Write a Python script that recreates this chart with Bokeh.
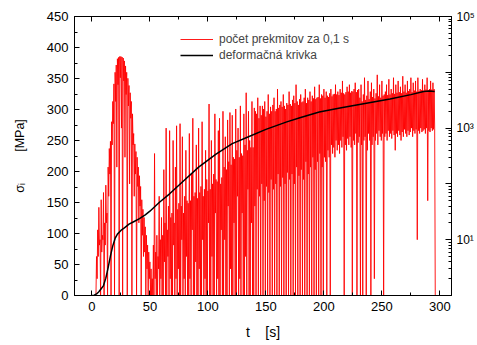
from bokeh.plotting import figure
from bokeh.models import (Range1d, LogScale, LogAxis, LinearAxis, FixedTicker,
                          Legend, LegendItem, CustomJSTickFormatter, ColumnDataSource)
from bokeh.embed import file_html
from bokeh.resources import INLINE

# ---- data ----
# deformation curve (left axis, MPa)
t_def = [0, 2, 4, 6, 8, 10, 12, 14, 16, 18, 20, 22, 25, 28, 32, 36, 41, 46, 50,
         58, 67, 78, 92, 107, 121, 135, 150, 168, 180, 196, 215, 233, 257, 275,
         286, 291, 295.5]
s_def = [0, 0.6, 2.5, 6, 11, 16, 28, 45, 64, 80, 92, 99, 105, 109, 115, 119, 124,
         130, 136, 150, 164, 183, 207, 228, 245, 256, 268, 280, 287, 296, 303,
         309, 317, 324, 329, 330, 329]

# oscillation counts per 0.1 s (right log axis)
# upper readings at whole seconds t = 3..296
t_cnt = list(range(3, 297))
cnt = [
    # t 3-52
    1, 5, 15, 38, 10, 52, 12, 70, 20, 95,
    30, 200, 430, 580, 1300, 3000, 6200, 10000, 13500, 17500,
    18500, 19200, 19200, 18800, 18000, 16000, 13000, 10000, 7800, 5800,
    4300, 3000, 1800, 800, 520, 380, 300, 200, 140, 90,
    52, 35, 25, 17, 12, 8, 6, 4, 3, 2,
    # t 53-140
    8, 350, 6, 12, 5, 60, 10, 25, 12, 180,
    20, 1000, 15, 40, 900, 25, 30, 600, 20, 200,
    1100, 35, 45, 1200, 40, 700, 30, 60, 400, 50,
    45, 800, 50, 150, 1500, 60, 70, 500, 55, 1000,
    70, 90, 1300, 60, 80, 400, 120, 75, 2700, 80,
    600, 100, 150, 1800, 120, 110, 900, 1500, 100, 130,
    2000, 200, 700, 180, 1400, 250, 1900, 220, 1700, 300,
    280, 2200, 400, 1000, 300, 2500, 350, 320, 1800, 500,
    4300, 400, 2000, 600, 450, 3000, 450, 2300,
    # t 141-230
    2000, 1800, 3500, 1500, 2500, 1700, 2500, 2200, 3000, 1600,
    2000, 4000, 1800, 2400, 2000, 2600, 3500, 2000, 2200, 5000,
    2300, 2600, 3000, 2400, 4000, 2500, 2200, 2800, 2600, 4500,
    2700, 2500, 3200, 3800, 2800, 6000, 3000, 2600, 3300, 4000,
    2900, 3000, 3500, 5000, 2800, 3500, 3200, 4500, 3000, 3800,
    3400, 5500, 3300, 3500, 3600, 6000, 3400, 4000, 3800, 5000,
    3500, 4500, 3800, 3600, 4200, 5000, 3700, 4000, 4100, 6000,
    4000, 4500, 3900, 5000, 4300, 7000, 4200, 4000, 4400, 5500,
    4500, 6000, 4300, 4600, 4500, 5000, 6500, 4400, 4800, 5000,
    # t 231-296
    3500, 6000, 3000, 4000, 8000, 3200, 3800, 7000, 3300, 4500,
    6500, 3600, 5000, 3400, 4200, 9000, 3700, 6000, 3500, 7000,
    3800, 4000, 4500, 6000, 3900, 7500, 4000, 5000, 4200, 8000,
    4100, 6000, 4300, 7000, 4400, 5500, 4200, 8500, 4500, 6000,
    4300, 7000, 4600, 5000, 8000, 4400, 6500, 4700, 7000, 4500,
    8000, 4600, 5000, 4800, 7500, 4700, 6000, 4900, 8000, 4800,
    5000, 7000, 4900, 6500, 5000, 1,
]
# lower readings at half seconds t = 3.5..295.5
t_half = [t + 0.5 for t in range(3, 296)]
cnt_half = [
    # t 3.5-52.5
    1, 2, 5, 8, 1, 6, 10, 1, 8, 20,
    1, 60, 150, 1, 500, 1200, 1, 3000, 200, 6000,
    1, 8000, 1000, 1, 7000, 300, 4000, 1, 2500, 100,
    1500, 1, 500, 60, 150, 1, 90, 20, 40, 1,
    12, 5, 6, 1, 3, 1, 2, 1, 1, 1,
    # t 53.5-140.5
    1, 2, 1, 1, 3, 1, 2, 1, 1, 4,
    1, 1, 5, 1, 2, 1, 1, 8, 1, 2,
    1, 3, 1, 1, 10, 1, 2, 1, 5, 1,
    1, 2, 1, 15, 1, 1, 4, 1, 1, 3,
    1, 1, 10, 1, 2, 1, 1, 20, 1, 1,
    5, 1, 1, 30, 1, 2, 1, 1, 15, 1,
    1, 10, 1, 1, 40, 1, 3, 1, 1, 20,
    1, 1, 60, 1, 2, 1, 30, 1, 1, 5,
    1, 80, 1, 1, 20, 1, 1, 40,
    # t 141.5-230.5
    1, 80, 1, 60, 1, 100, 1, 50, 1, 90,
    1, 70, 1, 120, 1, 80, 1, 100, 1, 150,
    1, 90, 1, 130, 1, 100, 1, 160, 1, 120,
    1, 150, 1, 100, 1, 200, 1, 140, 1, 180,
    1, 120, 1, 250, 1, 150, 1, 200, 1, 300,
    1, 180, 1, 250, 1, 350, 1, 200, 1, 300,
    250, 1, 400, 300, 1, 500, 350, 450, 300, 600,
    400, 500, 350, 600, 450, 700, 1, 500, 400, 650,
    500, 700, 450, 1, 600, 500, 800, 1, 550, 700,
    # t 231.5-295.5
    1, 500, 1, 600, 700, 1, 400, 800, 600, 1,
    500, 700, 2, 600, 800, 500, 900, 700, 600, 800,
    1, 700, 800, 600, 900, 700, 800, 650, 900, 750,
    400, 800, 700, 900, 750, 600, 850, 700, 950, 800,
    700, 900, 750, 850, 1000, 700, 900, 800, 950, 10,
    900, 800, 1000, 850, 900, 950, 800, 1000, 50, 900,
    850, 1000, 900, 950, 1000,
]

x_ticks = [0, 50, 100, 150, 200, 250, 300]
x_minor = [25, 75, 125, 175, 225, 275]
y_ticks = [0, 50, 100, 150, 200, 250, 300, 350, 400, 450]
y_minor = [25, 75, 125, 175, 225, 275, 325, 375, 425]
log_ticks = [1, 10, 100, 1000, 10000, 100000]
log_minor = [2, 3, 4, 5, 6, 7, 8, 9, 20, 30, 40, 50, 60, 70, 80, 90,
             200, 300, 400, 500, 600, 700, 800, 900,
             2000, 3000, 4000, 5000, 6000, 7000, 8000, 9000,
             20000, 30000, 40000, 50000, 60000, 70000, 80000, 90000]
log_labels = {1: "", 10: "10\u00b9", 100: "", 1000: "10\u00b3", 10000: "", 100000: "10\u2075"}

# merge whole- and half-second readings into one time-ordered series
t_all, c_all = [], []
for i in range(len(t_cnt)):
    t_all.append(t_cnt[i]); c_all.append(cnt[i])
    if i < len(t_half):
        t_all.append(t_half[i]); c_all.append(cnt_half[i])
src_cnt = ColumnDataSource(dict(t=t_all, c=c_all))

FONT = "Liberation Sans"

p = figure(width=477, height=345, output_backend="svg", toolbar_location=None,
           x_range=Range1d(-15, 310), y_range=Range1d(0, 450),
           min_border_left=74, min_border_right=22, min_border_top=16,
           min_border_bottom=50, x_axis_location=None, y_axis_location=None)
p.extra_y_ranges = {"cnt": Range1d(1, 100000)}
p.extra_y_scales = {"cnt": LogScale()}
p.xgrid.visible = False
p.ygrid.visible = False
p.outline_line_color = "black"
p.outline_line_width = 1
p.background_fill_color = "white"
p.border_fill_color = "white"


def style(ax, size="13px"):
    ax.axis_line_color = "black"
    ax.major_tick_in = 5
    ax.major_tick_out = 0
    ax.minor_tick_in = 3
    ax.minor_tick_out = 0
    ax.major_tick_line_color = "black"
    ax.minor_tick_line_color = "black"
    ax.major_label_text_font = FONT
    ax.major_label_text_font_size = size
    ax.major_label_text_color = "black"
    ax.axis_label_text_font = FONT
    ax.axis_label_text_font_style = "normal"
    ax.axis_label_text_color = "black"


xb = LinearAxis(ticker=FixedTicker(ticks=x_ticks, minor_ticks=x_minor),
                axis_label="t\u00a0\u00a0\u00a0\u00a0[s]")
style(xb)
xb.axis_label_text_font_size = "14px"
xb.major_label_standoff = 6
xb.axis_label_standoff = 10
p.add_layout(xb, "below")

xt = LinearAxis(ticker=FixedTicker(ticks=x_ticks, minor_ticks=x_minor),
                formatter=CustomJSTickFormatter(code="return ''"))
style(xt)
xt.major_label_standoff = 0
p.add_layout(xt, "above")

yl = LinearAxis(ticker=FixedTicker(ticks=y_ticks, minor_ticks=y_minor),
                axis_label="\u03c3\u1d62" + "\u00a0" * 9 + "[MPa]")
style(yl)
yl.axis_label_text_font_size = "12.5px"
yl.major_label_standoff = 6
yl.axis_label_standoff = 17
p.add_layout(yl, "left")

yr = LogAxis(y_range_name="cnt",
             ticker=FixedTicker(ticks=log_ticks, minor_ticks=log_minor),
             major_label_overrides=log_labels)
style(yr, "12px")
yr.major_tick_in = 6
yr.major_label_standoff = 5
p.add_layout(yr, "right")

r_red = p.line("t", "c", source=src_cnt, y_range_name="cnt", line_color="red",
               line_width=0.9, line_alpha=1.0)
r_blk = p.line(t_def, s_def, line_color="black", line_width=1.5)

legend = Legend(items=[LegendItem(label="počet prekmitov za 0,1 s", renderers=[r_red]),
                       LegendItem(label="deformačná krivka", renderers=[r_blk])],
                location=(106, 232))
legend.border_line_alpha = 0
legend.background_fill_alpha = 0
legend.padding = 0
legend.margin = 0
legend.spacing = 0
legend.glyph_width = 33
legend.glyph_height = 16
legend.label_height = 16
legend.label_standoff = 6
legend.label_text_font = FONT
legend.label_text_font_size = "12px"
p.add_layout(legend)

open("out.html", "w").write(file_html(p, INLINE))
